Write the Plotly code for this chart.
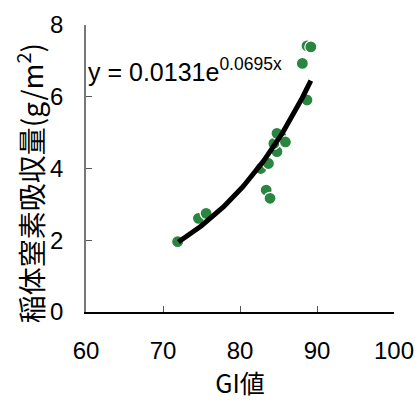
import numpy as np
import plotly.graph_objects as go

gi = [71.9, 74.6, 75.6, 83.4, 83.9, 82.7, 83.7, 84.8, 84.4, 85.3, 85.9, 84.8, 88.7, 88.1, 88.7, 89.2]
n_uptake = [1.96, 2.61, 2.75, 3.40, 3.17, 4.00, 4.14, 4.47, 4.70, 4.90, 4.74, 4.98, 5.91, 6.93, 7.42, 7.39]
coef_a = 0.0131
coef_b = 0.0695
fit_range = [72.0, 89.2]

xf = np.linspace(fit_range[0], fit_range[1], 100)
yf = coef_a * np.exp(coef_b * xf)

fig = go.Figure()
fig.add_trace(go.Scatter(x=gi, y=n_uptake, mode="markers",
                         marker=dict(color="#2a8540", size=12, line=dict(color="white", width=1.2)),
                         showlegend=False))
fig.add_trace(go.Scatter(x=xf, y=yf, mode="lines", line=dict(color="black", width=5),
                         showlegend=False))

fig.add_annotation(x=60, y=6.74, xref="x", yref="y", xanchor="left", yanchor="middle",
                   text=f"y = {coef_a}e<sup>{coef_b}x</sup>", showarrow=False,
                   font=dict(family="Liberation Sans, Arial", size=25, color="black"))

# y-axis title drawn as rotated annotation
fig.add_annotation(x=0, y=0.449, xref="paper", yref="paper", xanchor="center", yanchor="middle",
                   xshift=-57, textangle=-90, showarrow=False,
                   text="稲体窒素吸収量(g/m<sup>2</sup>)",
                   font=dict(family="Noto Sans CJK JP", size=28, color="black"))

fig.update_layout(
    width=419, height=400, margin=dict(l=86, r=25, t=25, b=88),
    plot_bgcolor="white", paper_bgcolor="white",
    font=dict(family="Liberation Sans, Arial, Noto Sans CJK JP", color="black"),
)
fig.update_xaxes(range=[60, 100], tickvals=[60, 70, 80, 90, 100], showgrid=False, zeroline=False,
                 automargin=False,
                 showline=True, linecolor="black", linewidth=1.5, ticks="inside", ticklen=6,
                 tickcolor="#555", tickfont=dict(size=24), ticklabelstandoff=16,
                 title=dict(text="GI値", font=dict(size=25, family="Noto Sans CJK JP"), standoff=13))
fig.update_yaxes(range=[0, 8], tickvals=[0, 2, 4, 6, 8], showgrid=False, zeroline=False,
                 automargin=False,
                 showline=True, linecolor="#777", linewidth=1.5, ticks="inside", ticklen=6,
                 tickcolor="#555", tickfont=dict(size=24), ticklabelstandoff=16)

fig.write_html("out.html")
